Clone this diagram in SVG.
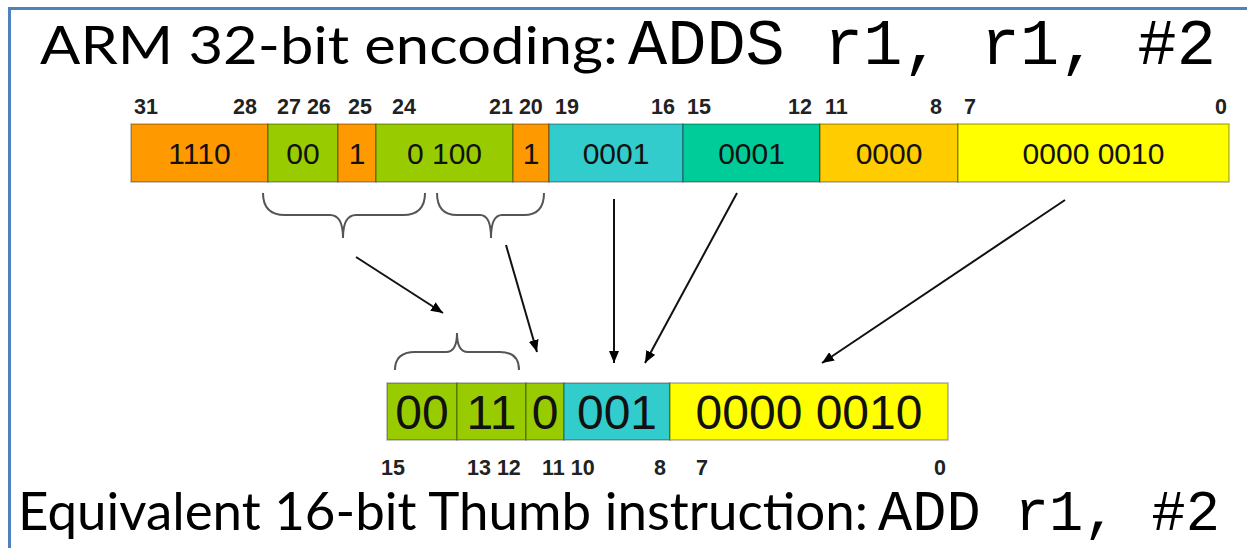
<svg xmlns="http://www.w3.org/2000/svg" width="1247" height="548" viewBox="0 0 1247 548">
<defs>
<marker id="ah" viewBox="0 0 12 10" refX="12" refY="5" markerWidth="12" markerHeight="10" markerUnits="userSpaceOnUse" orient="auto">
<path d="M0,0 L12,5 L0,10 Z" fill="#000"/>
</marker>
<style>
.title{font-family:Lato,"Open Sans",sans-serif;font-size:52px;fill:#000}
.mono{font-family:"Liberation Mono","Courier New",monospace;fill:#000}
.bit{font-family:"Liberation Sans",Arial,sans-serif;font-weight:bold;font-size:21.5px;fill:#222}
.cell{stroke:#000;stroke-opacity:0.3;stroke-width:1.5}
.ct{font-family:"Liberation Sans",Arial,sans-serif;font-size:30px;fill:#111;text-anchor:middle}
.cb{font-family:"Liberation Sans",Arial,sans-serif;font-size:48px;fill:#111;text-anchor:middle}
.or{fill:#FF9900}.gr{fill:#99CC00}.cy{fill:#33CCCC}.tg{fill:#00CC99}.go{fill:#FFCC00}.ye{fill:#FFFF00}
.brace{fill:none;stroke:#555;stroke-width:2}
.arr{fill:none;stroke:#111;stroke-width:2;marker-end:url(#ah)}
</style>
</defs>
<rect width="1247" height="548" fill="#fff"/>
<path d="M9.5,548 V8.5 H1247" fill="none" stroke="#4F81BD" stroke-width="3"/>

<g id="title-top">
<text class="title" x="40" y="64" textLength="578" lengthAdjust="spacingAndGlyphs">ARM 32-bit encoding:</text>
<text class="mono" x="628" y="64" font-size="64" textLength="588" lengthAdjust="spacingAndGlyphs">ADDS r1, r1, #2</text>
</g>

<g id="arm-bits">
<text class="bit" x="134" y="114">31</text>
<text class="bit" x="233" y="114">28</text>
<text class="bit" x="277" y="114">27 26</text>
<text class="bit" x="348" y="114">25</text>
<text class="bit" x="392" y="114">24</text>
<text class="bit" x="489" y="114">21 20</text>
<text class="bit" x="555" y="114">19</text>
<text class="bit" x="651" y="114">16</text>
<text class="bit" x="687" y="114">15</text>
<text class="bit" x="788" y="114">12</text>
<text class="bit" x="825" y="114">11</text>
<text class="bit" x="930" y="114">8</text>
<text class="bit" x="964" y="114">7</text>
<text class="bit" x="1215" y="114">0</text>
</g>

<g id="arm-fields">
<rect class="cell or" x="131" y="124" width="137" height="58"/>
<rect class="cell gr" x="268" y="124" width="70" height="58"/>
<rect class="cell or" x="338" y="124" width="38" height="58"/>
<rect class="cell gr" x="376" y="124" width="137" height="58"/>
<rect class="cell or" x="513" y="124" width="36" height="58"/>
<rect class="cell cy" x="549" y="124" width="134" height="58"/>
<rect class="cell tg" x="683" y="124" width="137" height="58"/>
<rect class="cell go" x="820" y="124" width="138" height="58"/>
<rect class="cell ye" x="958" y="124" width="271" height="58"/>
<text class="ct" x="199.5" y="164">1110</text>
<text class="ct" x="303" y="164">00</text>
<text class="ct" x="357" y="164">1</text>
<text class="ct" x="444.5" y="164">0 100</text>
<text class="ct" x="531" y="164">1</text>
<text class="ct" x="616" y="164">0001</text>
<text class="ct" x="751.5" y="164">0001</text>
<text class="ct" x="889" y="164">0000</text>
<text class="ct" x="1093.5" y="164">0000 0010</text>
</g>

<g id="connectors">
<path class="brace" d="M263,193 Q263,215 285,215 H330 Q343,215 343,238 Q343,215 356,215 H403 Q425,215 425,193"/>
<path class="brace" d="M437,193 Q437,215 457,215 H480 Q491,215 491,238 Q491,215 502,215 H524 Q544,215 544,193"/>
<path class="brace" d="M395,370 Q395,352 415,352 H446 Q457,352 457,333 Q457,352 468,352 H500 Q519,352 519,370"/>
<line class="arr" x1="356" y1="257" x2="443" y2="313"/>
<line class="arr" x1="506" y1="245" x2="537" y2="352"/>
<line class="arr" x1="614" y1="199" x2="614" y2="363"/>
<line class="arr" x1="737" y1="193" x2="645" y2="363"/>
<line class="arr" x1="1065" y1="200" x2="822" y2="363"/>
</g>

<g id="thumb-fields">
<rect class="cell gr" x="387" y="383" width="70" height="57"/>
<rect class="cell gr" x="457" y="383" width="69" height="57"/>
<rect class="cell gr" x="526" y="383" width="38" height="57"/>
<rect class="cell cy" x="564" y="383" width="106" height="57"/>
<rect class="cell ye" x="670" y="383" width="278" height="57"/>
<text class="cb" x="422" y="429">00</text>
<text class="cb" x="491.5" y="429">11</text>
<text class="cb" x="545" y="429">0</text>
<text class="cb" x="617" y="429">001</text>
<text class="cb" x="809" y="429">0000 0010</text>
</g>

<g id="thumb-bits">
<text class="bit" x="381" y="475">15</text>
<text class="bit" x="467" y="475">13 12</text>
<text class="bit" x="542" y="475">11 10</text>
<text class="bit" x="654" y="475">8</text>
<text class="bit" x="696" y="475">7</text>
<text class="bit" x="934" y="475">0</text>
</g>

<g id="title-bottom">
<text class="title" x="18" y="530" textLength="850" lengthAdjust="spacingAndGlyphs">Equivalent 16-bit Thumb instruction:</text>
<text class="mono" x="878" y="530" font-size="57" textLength="342" lengthAdjust="spacingAndGlyphs">ADD r1, #2</text>
</g>
</svg>
